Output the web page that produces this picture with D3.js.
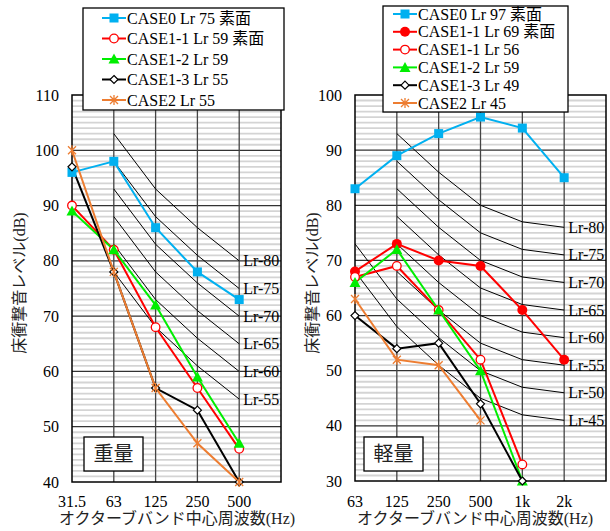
<!DOCTYPE html>
<html>
<head>
<meta charset="utf-8">
<script src="https://cdn.jsdelivr.net/npm/d3@7"></script>
<style>
  body { margin: 0; background: #fff; }
  svg { font-family: "Liberation Serif", "Noto Sans CJK JP", serif; }
</style>
</head>
<body>
<script>
// canvas size
var width = 610,
    height = 531;

// heavy (left) panel data
var heavyFreqs = ["31.5", "63", "125", "250", "500"];
var heavyCase0 = [96, 98, 86, 78, 73];
var heavyCase11 = [90, 82, 68, 57, 46];
var heavyCase12 = [89, 82, 72, 59, 47];
var heavyCase13 = [97, 78, 57, 53, 40];
var heavyCase2 = [100, 78, 57, 47, 40];
var heavyLr = [80, 75, 70, 65, 60, 55];
// Lr curve offsets for 63..500 Hz
var heavyLrOffsets = [23, 13, 6, 0];

// light (right) panel data
var lightFreqs = ["63", "125", "250", "500", "1k", "2k"];
var lightCase0 = [83, 89, 93, 96, 94, 85];
var lightCase11s = [68, 73, 70, 69, 61, 52];
var lightCase11 = [67, 69, 61, 52, 33, null];
var lightCase12 = [66, 72, 61, 50, 30, null];
var lightCase13 = [60, 54, 55, 44, 30, null];
var lightCase2 = [63, 52, 51, 41, null, null];
var lightLr = [80, 75, 70, 65, 60, 55, 50, 45];
// Lr curve offsets for 63..2k Hz
var lightLrOffsets = [23, 13, 6, 0, -3, -4];

var svg = d3.select("body").append("svg")
    .attr("width", width)
    .attr("height", height);

var BLUE = "#00b0f0", RED = "#ff0000", GREEN = "#00ee00", ORANGE = "#ed7d31";

// marker drawing
function marker(g, type, color, x, y) {
  if (type == "square") {
    g.append("rect").attr("x", x - 4.5).attr("y", y - 4.5).attr("width", 9).attr("height", 9)
      .attr("fill", color);
  } else if (type == "circle") {
    g.append("circle").attr("cx", x).attr("cy", y).attr("r", 4.3)
      .attr("fill", "#fff").attr("stroke", color).attr("stroke-width", 1.3);
  } else if (type == "dot") {
    g.append("circle").attr("cx", x).attr("cy", y).attr("r", 5)
      .attr("fill", color);
  } else if (type == "triangle") {
    g.append("path").attr("d", "M" + x + "," + (y - 5.5) + "L" + (x + 5.5) + "," + (y + 4.5) + "L" + (x - 5.5) + "," + (y + 4.5) + "Z")
      .attr("fill", color);
  } else if (type == "diamond") {
    g.append("path").attr("d", "M" + x + "," + (y - 4) + "L" + (x + 4) + "," + y + "L" + x + "," + (y + 4) + "L" + (x - 4) + "," + y + "Z")
      .attr("fill", "#fff").attr("stroke", "#000").attr("stroke-width", 1.2);
  } else if (type == "star") {
    g.append("path").attr("d", "M" + (x - 4) + "," + (y - 4) + "L" + (x + 4) + "," + (y + 4) +
        "M" + (x + 4) + "," + (y - 4) + "L" + (x - 4) + "," + (y + 4) +
        "M" + x + "," + (y - 5) + "L" + x + "," + (y + 5))
      .attr("stroke", color).attr("stroke-width", 1.3).attr("fill", "none");
  }
}

function drawPanel(opt) {
  var x = d3.scaleLinear().domain([0, opt.nBands]).range([opt.left, opt.right]);
  var y = d3.scaleLinear().domain(opt.yDomain).range([opt.bottom, opt.top]);
  var g = svg.append("g");

  // minor horizontal grid, every 1 dB
  g.selectAll(".minor")
    .data(d3.range(opt.yDomain[0] + 1, opt.yDomain[1]).filter(function(v) { return v % 10 != 0; }))
    .enter().append("line")
    .attr("x1", opt.left).attr("x2", opt.right)
    .attr("y1", function(d) { return y(d); }).attr("y2", function(d) { return y(d); })
    .attr("stroke", "#d4d4d4").attr("stroke-width", 1.8);

  // major horizontal grid
  g.selectAll(".major")
    .data(d3.range(opt.yDomain[0] + 10, opt.yDomain[1], 10))
    .enter().append("line")
    .attr("x1", opt.left).attr("x2", opt.right)
    .attr("y1", function(d) { return y(d); }).attr("y2", function(d) { return y(d); })
    .attr("stroke", "#333").attr("stroke-width", 1.3);

  // vertical grid
  g.selectAll(".vgrid")
    .data(d3.range(1, opt.nBands))
    .enter().append("line")
    .attr("x1", function(d) { return x(d); }).attr("x2", function(d) { return x(d); })
    .attr("y1", opt.top).attr("y2", opt.bottom)
    .attr("stroke", "#444").attr("stroke-width", 1.3);

  // Lr reference curves
  opt.lr.forEach(function(n) {
    var pts = [];
    opt.lrOffsets.forEach(function(o, i) {
      var idx = i + opt.lrStart;
      if (idx < opt.lrFirst(n)) return;
      pts.push([x(idx), y(n + o)]);
    });
    g.append("path")
      .attr("d", d3.line()(pts))
      .attr("fill", "none").attr("stroke", "#000").attr("stroke-width", 1);
    var last = pts[pts.length - 1];
    g.append("text")
      .attr("x", last[0] + 4).attr("y", last[1] + 5.5)
      .attr("font-size", 16)
      .text("Lr-" + n);
  });

  // border
  g.append("rect")
    .attr("x", opt.left).attr("y", opt.top)
    .attr("width", opt.right - opt.left).attr("height", opt.bottom - opt.top)
    .attr("fill", "none").attr("stroke", "#000").attr("stroke-width", 1.5);

  // series
  opt.series.forEach(function(s) {
    var pts = [];
    s.values.forEach(function(v, i) { if (v != null) pts.push([x(i), y(v)]); });
    g.append("path")
      .attr("d", d3.line()(pts))
      .attr("fill", "none").attr("stroke", s.color).attr("stroke-width", 2);
  });
  opt.series.forEach(function(s) {
    s.values.forEach(function(v, i) { if (v != null) marker(g, s.marker, s.color, x(i), y(v)); });
  });

  // y tick labels
  g.selectAll(".ytick")
    .data(d3.range(opt.yDomain[0], opt.yDomain[1] + 1, 10))
    .enter().append("text")
    .attr("x", opt.left - 13)
    .attr("y", function(d) { return y(d) + 5.5; })
    .attr("text-anchor", "end")
    .attr("font-size", 16)
    .text(function(d) { return d; });

  // x tick labels
  g.selectAll(".xtick")
    .data(opt.freqs)
    .enter().append("text")
    .attr("x", function(d, i) { return x(i); })
    .attr("y", 507)
    .attr("text-anchor", "middle")
    .attr("font-size", 16)
    .text(function(d) { return d; });

  // axis titles
  g.append("text")
    .attr("x", opt.xTitleX).attr("y", 524)
    .attr("text-anchor", "middle")
    .attr("font-size", 16)
    .attr("fill", "#222")
    .text("オクターブバンド中心周波数(Hz)");
  g.append("text")
    .attr("transform", "translate(" + opt.yTitleX + ",283) rotate(-90)")
    .attr("text-anchor", "middle")
    .attr("font-size", 16)
    .attr("fill", "#222")
    .text("床衝撃音レベル(dB)");

  // tag box
  g.append("rect")
    .attr("x", opt.tagX).attr("y", 437).attr("width", 59).attr("height", 34)
    .attr("fill", "#fff").attr("stroke", "#000").attr("stroke-width", 1.3);
  g.append("text")
    .attr("x", opt.tagX + 29.5).attr("y", 461)
    .attr("text-anchor", "middle")
    .attr("font-size", 20)
    .attr("fill", "#222")
    .text(opt.tag);

  // legend
  var lg = g.append("g");
  lg.append("rect")
    .attr("x", opt.legend.x).attr("y", opt.legend.y)
    .attr("width", opt.legend.w).attr("height", opt.legend.h)
    .attr("fill", "#fff").attr("stroke", "#000").attr("stroke-width", 1.3);
  opt.series.forEach(function(s, i) {
    var ly = opt.legend.row0 + i * opt.legend.step;
    var lx = opt.legend.x + opt.legend.lineX;
    lg.append("line")
      .attr("x1", lx).attr("x2", lx + 24)
      .attr("y1", ly).attr("y2", ly)
      .attr("stroke", s.color).attr("stroke-width", 2);
    marker(lg, s.marker, s.color, lx + 12, ly);
    lg.append("text")
      .attr("x", lx + 25).attr("y", ly + 5.5)
      .attr("font-size", 16)
      .text(s.name);
  });
}

drawPanel({
  left: 72, right: 281, top: 95, bottom: 482,
  nBands: 5, yDomain: [40, 110],
  freqs: heavyFreqs,
  lr: heavyLr, lrOffsets: heavyLrOffsets, lrStart: 1,
  lrFirst: function(n) { return 1; },
  xTitleX: 177, yTitleX: 25,
  tag: "重量", tagX: 84,
  legend: { x: 83, y: 8, w: 201, h: 102, row0: 18, step: 20.5, lineX: 19 },
  series: [
    { name: "CASE0 Lr 75 素面", values: heavyCase0, color: BLUE, marker: "square" },
    { name: "CASE1-1 Lr 59 素面", values: heavyCase11, color: RED, marker: "circle" },
    { name: "CASE1-2 Lr 59", values: heavyCase12, color: GREEN, marker: "triangle" },
    { name: "CASE1-3 Lr 55", values: heavyCase13, color: "#000", marker: "diamond" },
    { name: "CASE2 Lr 55", values: heavyCase2, color: ORANGE, marker: "star" }
  ]
});

drawPanel({
  left: 355, right: 606, top: 95, bottom: 481,
  nBands: 6, yDomain: [30, 100],
  freqs: lightFreqs,
  lr: lightLr, lrOffsets: lightLrOffsets, lrStart: 0,
  // the upper curves start at 125 Hz in the original
  lrFirst: function(n) { return n >= 55 ? 1 : 0; },
  xTitleX: 475, yTitleX: 318,
  tag: "軽量", tagX: 364,
  legend: { x: 383, y: 6, w: 185, h: 106, row0: 14, step: 17.8, lineX: 10 },
  series: [
    { name: "CASE0 Lr 97 素面", values: lightCase0, color: BLUE, marker: "square" },
    { name: "CASE1-1 Lr 69 素面", values: lightCase11s, color: RED, marker: "dot" },
    { name: "CASE1-1 Lr 56", values: lightCase11, color: RED, marker: "circle" },
    { name: "CASE1-2 Lr 59", values: lightCase12, color: GREEN, marker: "triangle" },
    { name: "CASE1-3 Lr 49", values: lightCase13, color: "#000", marker: "diamond" },
    { name: "CASE2 Lr 45", values: lightCase2, color: ORANGE, marker: "star" }
  ]
});
</script>
</body>
</html>
